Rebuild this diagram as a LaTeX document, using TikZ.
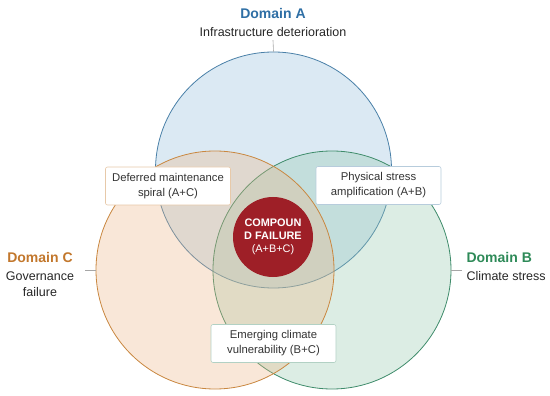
\documentclass[tikz,border=0pt]{standalone}
\usepackage{fontspec}
\setmainfont{Liberation Sans}

\definecolor{lineA}{HTML}{4A80A8}
\definecolor{fillA}{HTML}{8FBCD9}
\definecolor{headA}{HTML}{2F6FA5}
\definecolor{lineB}{HTML}{3F8C6B}
\definecolor{fillB}{HTML}{93C7AC}
\definecolor{headB}{HTML}{2E8A58}
\definecolor{lineC}{HTML}{C98740}
\definecolor{fillC}{HTML}{EDB585}
\definecolor{headC}{HTML}{C2772C}
\definecolor{coreRed}{HTML}{9E1F27}
\definecolor{inkGray}{HTML}{333333}

\begin{document}
\begin{tikzpicture}[x=1pt,y=-1pt,
  ring/.style={circle, inner sep=0pt, line width=0.8pt, fill opacity=0.32},
  pairbox/.style={rectangle, rounded corners=2pt, fill=white, line width=0.6pt,
    minimum width=125pt, minimum height=38pt, align=center, text=inkGray,
    font=\fontsize{11.3}{15}\selectfont},
  head/.style={font=\fontsize{14}{16}\selectfont\bfseries},
  sub/.style={font=\fontsize{12.5}{16}\selectfont, text=black!85},
  leader/.style={draw=black!35, line width=0.6pt}]

\useasboundingbox (0,0) rectangle (550,396);

\node[ring, draw=lineA, fill=fillA, minimum size=236pt] (circA) at (273.5,170) {};
\node[ring, draw=lineB, fill=fillB, minimum size=238pt] (circB) at (332,270) {};
\node[ring, draw=lineC, fill=fillC, minimum size=238pt] (circC) at (215,270) {};

\node[circle, fill=coreRed, minimum size=80pt, inner sep=0pt, align=center,
  text=white, font=\fontsize{10.9}{13}\selectfont] (core) at (273,237)
  {\textbf{COMPOUN}\\\textbf{D FAILURE}\\(A+B+C)};

\node[pairbox, draw=lineC!45] (boxAC) at (168,186) {Deferred maintenance\\spiral (A+C)};
\node[pairbox, draw=lineA!40] (boxAB) at (378.5,185.5) {Physical stress\\amplification (A+B)};
\node[pairbox, draw=lineB!40] (boxBC) at (273.5,343.5) {Emerging climate\\vulnerability (B+C)};

\node[head, text=headA] (headA) at (273,13) {Domain A};
\node[sub] (labA) at (273,32) {Infrastructure deterioration};
\draw[leader] (labA.south) -- (circA.north);

\node[head, text=headC] (headC) at (40,257) {Domain C};
\node[sub, align=center] (labC) at (40,284) {Governance\\failure};
\coordinate (tickC) at (85,270);
\draw[leader] (tickC) -- (circC.west);

\node[head, text=headB, anchor=west] (headB) at (463,257) {Domain B};
\node[sub, anchor=west] (labB) at (463,276) {Climate stress};
\coordinate (tickB) at (462,270);
\draw[leader] (circB.east) -- (tickB);

\end{tikzpicture}
\end{document}
